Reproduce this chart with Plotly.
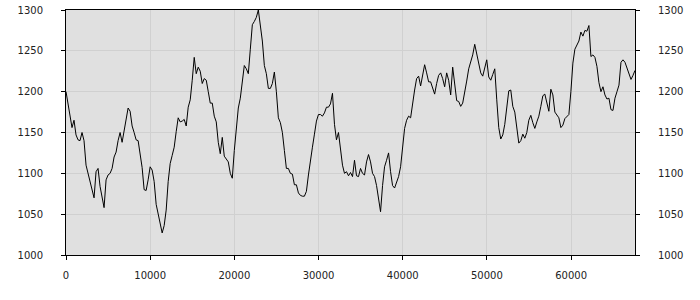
import plotly.graph_objects as go

X_STEP = 238
values = [
    1200, 1186, 1172, 1156, 1165, 1147, 1141, 1140, 1150, 1140,
    1110, 1100, 1092, 1082, 1070, 1102, 1106, 1084, 1072, 1058,
    1092, 1098, 1100, 1106, 1120, 1126, 1140, 1150, 1138, 1152,
    1168, 1180, 1176,
    1158, 1150, 1141, 1140, 1122, 1107, 1080, 1079, 1092, 1108,
    1104, 1090, 1062, 1050, 1036, 1027, 1036, 1055, 1090, 1112,
    1122, 1132, 1151, 1168, 1163, 1164, 1166, 1158, 1181, 1190,
    1214, 1242, 1222, 1230, 1225, 1210, 1216, 1214,
    1200, 1186, 1186, 1170, 1163, 1138, 1124, 1144, 1121, 1117,
    1114, 1100, 1094, 1128, 1160, 1180, 1192, 1214, 1232, 1228,
    1222, 1252, 1282, 1286, 1291, 1300, 1280, 1262, 1232, 1222,
    1204, 1204, 1210, 1224, 1200, 1168, 1162, 1150, 1128, 1106,
    1106, 1100, 1099, 1086, 1086, 1076, 1073, 1072, 1072, 1078,
    1098, 1118, 1132, 1148, 1164, 1172, 1172, 1170, 1174, 1181,
    1181, 1185, 1198, 1160, 1141, 1150, 1128,
    1110, 1100, 1102, 1097, 1101, 1096, 1116, 1097, 1096, 1106,
    1100, 1098, 1114, 1123, 1114, 1100, 1096, 1085, 1067, 1053, 1085,
    1108, 1116, 1125, 1102, 1085, 1082, 1090, 1096, 1108, 1128,
    1155, 1165, 1170, 1168, 1188, 1202, 1216,
    1219, 1207, 1220, 1233, 1223, 1212, 1212, 1204, 1197, 1210,
    1220, 1223, 1216, 1206, 1223, 1214, 1196, 1230, 1207, 1189,
    1188, 1182, 1186, 1198, 1213, 1228, 1236, 1245, 1258, 1246,
    1235, 1223, 1219, 1228, 1239, 1218, 1214, 1221, 1228, 1190,
    1156, 1142, 1147, 1160, 1182, 1201, 1202, 1182, 1175, 1152,
    1137, 1140, 1148, 1143, 1150, 1165, 1171, 1162, 1155, 1163,
    1170, 1182, 1195, 1197, 1186, 1176,
    1203, 1196, 1175, 1171, 1168, 1156, 1159, 1167, 1170, 1172,
    1200, 1235, 1252, 1257, 1262, 1273, 1268, 1275, 1274, 1281,
    1243, 1245, 1242, 1231, 1211, 1200, 1206, 1196, 1191, 1192,
    1178, 1177, 1192, 1200, 1208, 1236, 1239, 1236, 1229, 1223,
    1215, 1220, 1226,
]
x = [i * X_STEP for i in range(len(values))]
y_ticks = [1000, 1050, 1100, 1150, 1200, 1250, 1300]
x_ticks = [0, 10000, 20000, 30000, 40000, 50000, 60000]

font = dict(family="DejaVu Sans", size=10, color="#222222")

fig = go.Figure()
fig.add_trace(go.Scatter(x=x, y=values, mode="lines",
                         line=dict(color="black", width=1), hoverinfo="skip"))
fig.add_trace(go.Scatter(x=x, y=values, mode="lines", yaxis="y2",
                         line=dict(color="rgba(0,0,0,0)", width=1), hoverinfo="skip"))

fig.update_layout(
    width=700, height=300,
    margin=dict(l=66, r=65, t=10, b=45),
    paper_bgcolor="white", plot_bgcolor="#e0e0e0",
    showlegend=False,
    font=font,
    xaxis=dict(range=[0, x[-1]], tickvals=x_ticks, ticktext=[str(v) for v in x_ticks],
               showgrid=True, gridcolor="#d0d0d0", gridwidth=1,
               showline=True, linecolor="black", linewidth=1, mirror=True,
               ticks="outside", ticklen=4, tickcolor="black", automargin=False,
               ticklabelstandoff=7, zeroline=False, tickfont=font),
    yaxis=dict(range=[1000, 1300], tickvals=y_ticks, ticktext=[str(v) for v in y_ticks],
               showgrid=True, gridcolor="#d0d0d0", gridwidth=1,
               showline=True, linecolor="black", linewidth=1, mirror=True,
               ticks="outside", ticklen=4, tickcolor="black", automargin=False,
               ticklabelstandoff=16, zeroline=False, tickfont=font),
    yaxis2=dict(range=[1000, 1300], tickvals=y_ticks, ticktext=[str(v) for v in y_ticks],
                overlaying="y", side="right", showgrid=False, automargin=False,
                showline=False, ticks="outside", ticklen=4, tickcolor="black",
                ticklabelstandoff=16, zeroline=False, tickfont=font),
)

fig.write_html("out.html")
